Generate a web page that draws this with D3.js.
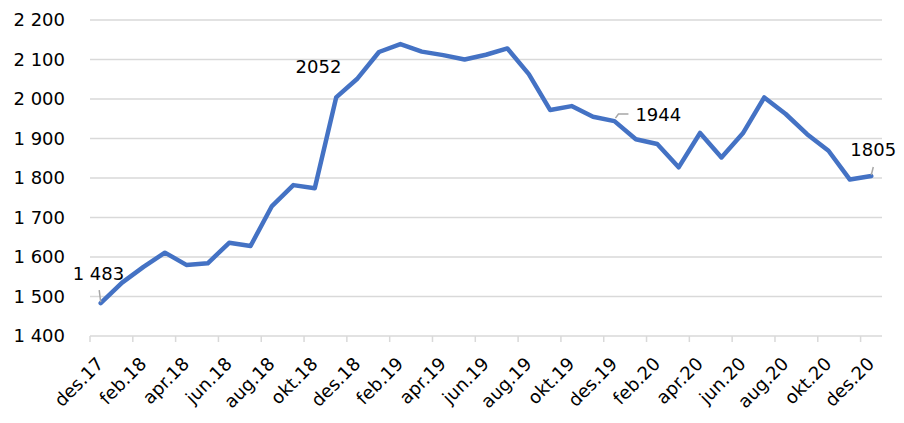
<!DOCTYPE html>
<html><head><meta charset="utf-8">
<script src="https://cdn.jsdelivr.net/npm/d3@7"></script>
<style>body{margin:0;background:#fff;} svg{display:block;}</style>
</head><body>
<svg id="c" width="904" height="423"></svg>
<script>
const months = ["des.17","jan.18","feb.18","mar.18","apr.18","mai.18","jun.18","jul.18","aug.18","sep.18","okt.18","nov.18",
"des.18","jan.19","feb.19","mar.19","apr.19","mai.19","jun.19","jul.19","aug.19","sep.19","okt.19","nov.19",
"des.19","jan.20","feb.20","mar.20","apr.20","mai.20","jun.20","jul.20","aug.20","sep.20","okt.20","nov.20","des.20"];
const values = [1483,1535,1575,1611,1580,1584,1636,1628,1729,1782,1774,2004,
2052,2119,2139,2120,2111,2100,2112,2128,2063,1972,1982,1955,
1944,1898,1886,1827,1914,1852,1913,2004,1962,1911,1869,1796,1805];
const yTicks = [1400,1500,1600,1700,1800,1900,2000,2100,2200];
const yTickLabels = ["1 400","1 500","1 600","1 700","1 800","1 900","2 000","2 100","2 200"];
const dataLabels = [
  {i:0, text:"1 483"},
  {i:12, text:"2052"},
  {i:24, text:"1944"},
  {i:36, text:"1805"}
];

const svg = d3.select("#c");
const L = 90, R = 882, T = 20, B = 336;
const font = "DejaVu Sans, Verdana, sans-serif";
const x = d3.scaleBand().domain(d3.range(months.length)).range([L, R]).padding(0);
const cx = i => x(i) + x.bandwidth()/2;
const y = d3.scaleLinear().domain([1400,2200]).range([B, T]);

// gridlines
svg.append("g").selectAll("line").data(yTicks).join("line")
  .attr("x1", L).attr("x2", R)
  .attr("y1", d => y(d)).attr("y2", d => y(d))
  .attr("stroke", "#d9d9d9").attr("stroke-width", 1.5);

// y labels
svg.append("g").selectAll("text").data(yTicks).join("text")
  .attr("x", 65).attr("y", d => y(d)).attr("dy", "0.36em")
  .attr("text-anchor", "end").attr("font-family", font).attr("font-size", 18).attr("fill", "#000")
  .text((d,i) => yTickLabels[i]);

// x tick marks at band boundaries every 2 categories
const tickIdx = d3.range(0, months.length, 2);
svg.append("g").selectAll("line").data(tickIdx).join("line")
  .attr("x1", d => x(d)).attr("x2", d => x(d))
  .attr("y1", B).attr("y2", B + 6)
  .attr("stroke", "#d9d9d9").attr("stroke-width", 1.5);

// x labels
svg.append("g").selectAll("text").data(tickIdx).join("text")
  .attr("transform", d => `translate(${cx(d)+4},${B+29}) rotate(-45)`)
  .attr("text-anchor", "end")
  .attr("font-family", font).attr("font-size", 18).attr("fill", "#000")
  .text(d => months[d]);

// line
const line = d3.line().x((d,i) => cx(i)).y(d => y(d));
svg.append("path").datum(values)
  .attr("d", line).attr("fill", "none")
  .attr("stroke", "#4472C4").attr("stroke-width", 4.5)
  .attr("stroke-linejoin", "round").attr("stroke-linecap", "round");

// data labels
const lbl = svg.append("g").attr("font-family", font).attr("font-size", 18).attr("fill", "#000");
function addLabel(d) {
  const px = cx(d.i), py = y(values[d.i]);
  let tx, ty, leader = null;
  if (d.i === 0) { tx = px - 28; ty = py - 23; leader = [[px-1.5, py-13],[px, py-1]]; }
  else if (d.i === 12) { tx = px - 62; ty = py - 5; }
  else if (d.i === 24) { tx = px + 21; ty = py; leader = [[px+1, py-3],[px+4, py-7],[px+14, py-7]]; }
  else { tx = px - 21; ty = py - 20; leader = [[px+2, py-9],[px, py-1]]; }
  if (leader) {
    lbl.append("path").attr("d", d3.line()(leader)).attr("fill","none")
      .attr("stroke", "#a6a6a6").attr("stroke-width", 1.5);
  }
  lbl.append("text").attr("x", tx).attr("y", ty).text(d.text);
}
dataLabels.forEach(addLabel);
</script>
</body></html>
